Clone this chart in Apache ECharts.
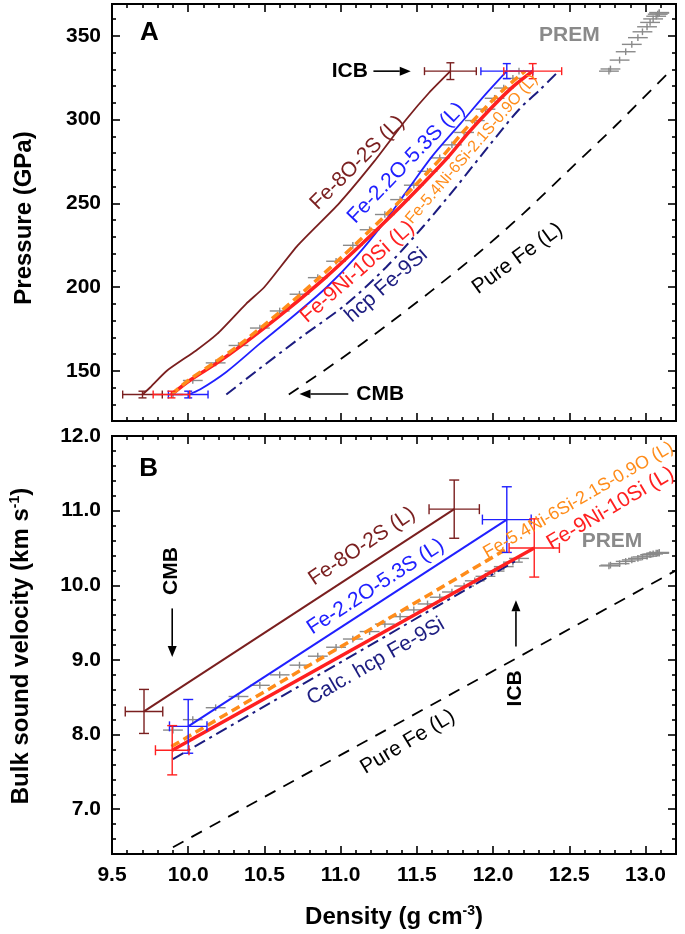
<!DOCTYPE html>
<html><head><meta charset="utf-8">
<script src="https://cdn.jsdelivr.net/npm/echarts@6/dist/echarts.min.js"></script>
<style>html,body{margin:0;padding:0;background:#fff}#c{width:685px;height:934px}</style>
</head><body><div id="c"></div>
<script>
// ================= DATA =================
// tick labels
const rhoTicks = [9.5, 10.0, 10.5, 11.0, 11.5, 12.0, 12.5, 13.0];
const pTicks = [150, 200, 250, 300, 350];
const vTicks = [7.0, 8.0, 9.0, 10.0, 11.0, 12.0];

// ---- Panel A: pressure (GPa) vs density (g/cm3) ----
const aFe8O2S_rho = [9.70, 9.75, 9.86, 10.05, 10.19, 10.38, 10.50, 10.72, 10.99, 11.22, 11.43, 11.58, 11.72];
const aFe8O2S_P   = [135.8, 140, 150, 162, 172, 190, 200, 225, 250, 275, 300, 316, 328.9];
const aFe22O_rho  = [10.00, 10.08, 10.25, 10.47, 10.71, 10.91, 11.10, 11.28, 11.44, 11.60, 11.79, 11.94, 12.09];
const aFe22O_P    = [135.8, 139, 149.3, 166.2, 184.2, 200, 218, 238, 258, 278, 298, 314, 328.9];
const aFe9Ni_rho  = [9.89, 10.01, 10.19, 10.35, 10.64, 10.90, 11.13, 11.34, 11.53, 11.70, 11.84, 11.98, 12.12, 12.26];
const aFe9Ni_P    = [135.8, 144.2, 154.7, 165.1, 185.7, 205.6, 224.9, 243.3, 260.8, 277.1, 292.3, 306.2, 318.8, 328.9];
const aFe54Ni_rho = [9.89, 10.00, 10.17, 10.33, 10.61, 10.86, 11.09, 11.30, 11.49, 11.66, 11.80, 11.94, 12.08, 12.21];
const aFe54Ni_P   = [135.8, 144.2, 154.7, 165.1, 185.7, 205.6, 224.9, 243.3, 260.8, 277.1, 292.3, 306.2, 318.8, 328.9];
const aHcp_rho    = [10.25, 10.45, 10.74, 11.04, 11.30, 11.54, 11.76, 11.97, 12.17, 12.31, 12.43];
const aHcp_P      = [135.8, 150, 170, 190, 212, 236, 260, 284, 306, 318, 328.9];
const aPureFe_rho = [10.66, 11.00, 11.30, 11.60, 11.90, 12.20, 12.50, 12.80, 13.16];
const aPureFe_P   = [135.8, 157, 177, 198, 220, 244, 270, 296, 328.9];

// PREM outer core (density, pressure, bulk sound velocity)
const premOC_rho = [9.90, 10.03, 10.18, 10.33, 10.47, 10.60, 10.73, 10.85, 10.97, 11.08, 11.19, 11.29, 11.39, 11.48, 11.57, 11.65, 11.73, 11.81, 11.88, 11.95, 12.01, 12.07, 12.13, 12.17];
const premOC_P   = [135.8, 144.2, 154.7, 165.1, 175.5, 185.7, 195.7, 205.6, 215.4, 224.9, 234.2, 243.3, 252.2, 260.8, 269.1, 277.1, 284.9, 292.3, 299.4, 306.2, 312.7, 318.8, 324.6, 328.9];
const premOC_V   = [8.06, 8.20, 8.36, 8.51, 8.66, 8.80, 8.93, 9.05, 9.17, 9.28, 9.38, 9.48, 9.58, 9.67, 9.75, 9.84, 9.91, 9.99, 10.06, 10.12, 10.19, 10.25, 10.31, 10.36];
// PREM inner core
const premIC_rho = [12.76, 12.77, 12.83, 12.87, 12.91, 12.95, 12.98, 13.01, 13.03, 13.05, 13.07, 13.08, 13.09, 13.09];
const premIC_P   = [328.9, 330.2, 335.5, 340.5, 344.9, 348.9, 352.4, 355.4, 358.0, 360.1, 361.7, 362.9, 363.6, 363.9];
const premIC_V   = [10.26, 10.27, 10.29, 10.32, 10.34, 10.36, 10.38, 10.39, 10.41, 10.42, 10.43, 10.43, 10.43, 10.44];
const premErrRho = 0.065, premErrP = 2.0, premErrV = 0.045;

// error-bar points panel A: [rho, P, rhoErr, PErr]
const aErrFe8O2S = [[9.70, 135.8, 0.13, 2.0], [11.72, 328.9, 0.17, 5.0]];
const aErrFe22O  = [[10.00, 135.8, 0.13, 2.0], [12.09, 328.9, 0.17, 4.5]];
const aErrFe9Ni  = [[9.89, 135.8, 0.12, 2.0], [12.26, 328.9, 0.19, 4.5]];

// ---- Panel B: bulk sound velocity (km/s) vs density ----
const bFe8O2S_rho = [9.71, 11.745];   const bFe8O2S_V = [8.31, 11.02];
const bFe22O_rho  = [10.00, 12.09];   const bFe22O_V  = [8.11, 10.88];
const bFe9Ni_rho  = [9.895, 12.27];   const bFe9Ni_V  = [7.79, 10.50];
const bFe54Ni_rho = [9.89, 12.10];    const bFe54Ni_V = [7.84, 10.50];
const bHcp_rho    = [9.90, 12.16];    const bHcp_V    = [7.67, 10.34];
const bPureFe_rho = [9.90, 13.20];    const bPureFe_V = [6.49, 10.20];
// error bars panel B: [rho, V, rhoErr, VErr]
const bErrFe8O2S = [[9.71, 8.31, 0.123, 0.295], [11.745, 11.02, 0.165, 0.39]];
const bErrFe22O  = [[10.00, 8.11, 0.123, 0.36], [12.09, 10.88, 0.16, 0.44]];
const bErrFe9Ni  = [[9.895, 7.79, 0.11, 0.33], [12.27, 10.50, 0.165, 0.39]];

// ================= STYLE / LAYOUT =================
const C = {maroon:'#7a1f1f', blue:'#2020ff', red:'#ff2020', orange:'#ff8c1a', navy:'#1c1c80', black:'#000', gray:'#8a8a8a'};
const FF = '"Liberation Sans", Arial, sans-serif';

const annA = [
  {t:'A', x:9.745, y:351.5, a:0, c:C.black, f:'bold 26px '+FF},
  {t:'PREM', x:12.50, y:350.5, a:0, c:C.gray, f:'bold 21px '+FF},
  {t:'ICB', x:11.06, y:328.6, a:0, c:C.black, f:'bold 21px '+FF},
  {t:'CMB', x:11.26, y:136.1, a:0, c:C.black, f:'bold 21px '+FF},
  {t:'Fe-8O-2S (L)', x:11.11, y:274.2, a:45, c:C.maroon, f:'21px '+FF},
  {t:'Fe-2.2O-5.3S (L)', x:11.43, y:274, a:46, c:C.blue, f:'21px '+FF},
  {t:'Fe-9Ni-10Si (L)', x:11.11, y:209, a:41, c:C.red, f:'21px '+FF},
  {t:'Fe-5.4Ni-6Si-2.1S-0.9O (L)', x:11.86, y:282.3, a:49, c:C.orange, f:'16px '+FF},
  {t:'hcp Fe-9Si', x:11.30, y:201, a:41, c:C.navy, f:'21px '+FF},
  {t:'Pure Fe (L)', x:12.16, y:217, a:36, c:C.black, f:'21px '+FF}
];
const annB = [
  {t:'B', x:9.74, y:11.56, a:0, c:C.black, f:'bold 26px '+FF},
  {t:'PREM', x:12.78, y:10.585, a:0, c:C.gray, f:'bold 21px '+FF},
  {t:'CMB', x:9.89, y:10.19, a:90, c:C.black, f:'bold 21px '+FF},
  {t:'ICB', x:12.145, y:8.62, a:90, c:C.black, f:'bold 21px '+FF},
  {t:'Fe-8O-2S (L)', x:11.14, y:10.52, a:34, c:C.maroon, f:'21px '+FF},
  {t:'Fe-2.2O-5.3S (L)', x:11.23, y:9.98, a:33, c:C.blue, f:'21px '+FF},
  {t:'Fe-5.4Ni-6Si-2.1S-0.9O (L)', x:12.56, y:11.14, a:30, c:C.orange, f:'18px '+FF},
  {t:'Fe-9Ni-10Si (L)', x:12.77, y:11.03, a:30.5, c:C.red, f:'21px '+FF},
  {t:'Calc. hcp Fe-9Si', x:11.23, y:8.98, a:30, c:C.navy, f:'21px '+FF},
  {t:'Pure Fe (L)', x:11.44, y:7.90, a:31, c:C.black, f:'21px '+FF}
];
const arrowsA = [[11.215, 328.9, 11.46, 328.9], [11.05, 136.1, 10.73, 136.1]];
const arrowsB = [[9.895, 9.69, 9.895, 9.04], [12.15, 9.18, 12.15, 9.80]];

// ================= BUILD =================
function zip(a, b) { return a.map((v, i) => [v, b[i]]); }
function zip3(a, b, ex, ey) { return a.map((v, i) => [v, b[i], ex, ey]); }
function minors(lo, hi, step, major) {
  const out = []; const n = Math.round((hi - lo) / step);
  for (let i = 0; i <= n; i++) { const v = +(lo + i * step).toFixed(4); const r = v / major; if (Math.abs(r - Math.round(r)) > 1e-6) out.push(v); }
  return out;
}
const rhoMinor = minors(9.6, 13.1, 0.1, 0.5);
const pMinor = minors(130, 360, 10, 50);
const vMinor = minors(6.6, 11.8, 0.2, 1);

const tickLS = {color:'#000', width:1.6};
const labelFont = {color:'#000', fontFamily:FF, fontWeight:'bold', fontSize:21};
function axis(grid, pos, min, max, ticks, len, labelFmt) {
  return {gridIndex:grid, type:'value', min:min, max:max, position:pos,
    axisLine:{show:false, onZero:false}, splitLine:{show:false}, minorTick:{show:false},
    axisTick:{show:true, inside:true, length:len, customValues:ticks, lineStyle:tickLS},
    axisLabel: labelFmt ? Object.assign({show:true, customValues:ticks, formatter:labelFmt, margin:11}, labelFont) : {show:false}};
}
const f1 = v => v.toFixed(1), f0 = v => String(Math.round(v));
const xAxes = [], yAxes = [];
[[0, false], [1, true]].forEach(([g, lab]) => {
  xAxes.push(axis(g, 'bottom', 9.5, 13.2, rhoTicks, 8, lab ? f1 : null));
  xAxes.push(axis(g, 'bottom', 9.5, 13.2, rhoMinor, 4, null));
  xAxes.push(axis(g, 'top', 9.5, 13.2, rhoTicks, 8, null));
  xAxes.push(axis(g, 'top', 9.5, 13.2, rhoMinor, 4, null));
});
yAxes.push(axis(0, 'left', 120, 369, pTicks, 8, f0));
yAxes.push(axis(0, 'left', 120, 369, pMinor, 4, null));
yAxes.push(axis(0, 'right', 120, 369, pTicks, 8, null));
yAxes.push(axis(0, 'right', 120, 369, pMinor, 4, null));
yAxes.push(axis(1, 'left', 6.4, 12.0, vTicks, 8, f1));
yAxes.push(axis(1, 'left', 6.4, 12.0, vMinor, 4, null));
yAxes.push(axis(1, 'right', 6.4, 12.0, vTicks, 8, null));
yAxes.push(axis(1, 'right', 6.4, 12.0, vMinor, 4, null));

function ln(p, q, st) { return {type:'line', shape:{x1:p[0], y1:p[1], x2:q[0], y2:q[1]}, style:st}; }
function barsRender(color, lw, cap) {
  return function (params, api) {
    const x = api.value(0), y = api.value(1), ex = api.value(2), ey = api.value(3);
    const l = api.coord([x - ex, y]), r = api.coord([x + ex, y]), t = api.coord([x, y + ey]), b = api.coord([x, y - ey]);
    const st = {stroke:color, lineWidth:lw, fill:null};
    const ch = [ln(l, r, st), ln(t, b, st)];
    if (cap) {
      ch.push(ln([l[0], l[1] - cap], [l[0], l[1] + cap], st));
      ch.push(ln([r[0], r[1] - cap], [r[0], r[1] + cap], st));
      ch.push(ln([t[0] - cap, t[1]], [t[0] + cap, t[1]], st));
      ch.push(ln([b[0] - cap, b[1]], [b[0] + cap, b[1]], st));
    }
    return {type:'group', children:ch};
  };
}
function bars(data, color, lw, cap, xi, z) {
  return {type:'custom', coordinateSystem:'cartesian2d', xAxisIndex:xi, yAxisIndex:xi, data:data,
    renderItem:barsRender(color, lw, cap), z:z, silent:true, clip:false};
}
function line(x, y, color, w, type, xi, z, smooth) {
  return {type:'line', xAxisIndex:xi, yAxisIndex:xi, data:zip(x, y), showSymbol:false, symbol:'none',
    smooth:smooth || false, lineStyle:{color:color, width:w, type:type}, z:z, silent:true, clip:true};
}
function texts(ann, xi) {
  return {type:'custom', coordinateSystem:'cartesian2d', xAxisIndex:xi, yAxisIndex:xi, data:ann.map(a => [a.x, a.y]),
    z:10, silent:true, clip:false,
    renderItem: function (params, api) {
      const a = ann[params.dataIndex];
      const c = api.coord([api.value(0), api.value(1)]);
      return {type:'text', x:c[0], y:c[1], rotation:a.a * Math.PI / 180,
        style:{text:a.t, font:a.f, fill:a.c, align:'center', verticalAlign:'middle'}};
    }};
}
function arrows(data, xi) {
  return {type:'custom', coordinateSystem:'cartesian2d', xAxisIndex:xi, yAxisIndex:xi, data:data, z:10, silent:true, clip:false,
    renderItem: function (params, api) {
      const p = api.coord([api.value(0), api.value(1)]), q = api.coord([api.value(2), api.value(3)]);
      const ang = Math.atan2(q[1] - p[1], q[0] - p[0]), L = 11, W = 4.5;
      const cx = Math.cos(ang), sy = Math.sin(ang);
      const bx = q[0] - L * cx, by = q[1] - L * sy;
      return {type:'group', children:[
        {type:'line', shape:{x1:p[0], y1:p[1], x2:bx, y2:by}, style:{stroke:'#000', lineWidth:1.6}},
        {type:'polygon', shape:{points:[[q[0], q[1]], [bx - W * sy, by + W * cx], [bx + W * sy, by - W * cx]]}, style:{fill:'#000'}}
      ]};
    }};
}

const series = [
  // Panel A
  bars(zip3(premOC_rho, premOC_P, premErrRho, premErrP), C.gray, 1.4, 0, 0, 1),
  bars(zip3(premIC_rho, premIC_P, premErrRho, premErrP), C.gray, 1.4, 0, 0, 1),
  line(aPureFe_rho, aPureFe_P, C.black, 1.8, [12, 9], 0, 2, 0.3),
  line(aFe8O2S_rho, aFe8O2S_P, C.maroon, 1.8, 'solid', 0, 3, 0.2),
  line(aHcp_rho, aHcp_P, C.navy, 2, [12, 5, 3, 5], 0, 3, 0.3),
  line(aFe22O_rho, aFe22O_P, C.blue, 1.8, 'solid', 0, 3, 0.3),
  line(aFe9Ni_rho, aFe9Ni_P, C.red, 3.5, 'solid', 0, 4, 0.3),
  line(aFe54Ni_rho, aFe54Ni_P, C.orange, 3.5, [9, 5], 0, 5, 0.3),
  bars(aErrFe8O2S, C.maroon, 1.4, 4, 0, 6),
  bars(aErrFe22O, C.blue, 1.4, 4, 0, 6),
  bars(aErrFe9Ni, C.red, 1.4, 4, 0, 6),
  texts(annA, 0),
  arrows(arrowsA, 0),
  // Panel B
  bars(zip3(premOC_rho, premOC_V, premErrRho, premErrV), C.gray, 1.4, 0, 4, 1),
  bars(zip3(premIC_rho, premIC_V, premErrRho, premErrV), C.gray, 1.4, 0, 4, 1),
  line(bPureFe_rho, bPureFe_V, C.black, 1.8, [12, 9], 4, 2),
  line(bFe8O2S_rho, bFe8O2S_V, C.maroon, 2, 'solid', 4, 3),
  line(bHcp_rho, bHcp_V, C.navy, 2, [12, 5, 3, 5], 4, 3),
  line(bFe22O_rho, bFe22O_V, C.blue, 2, 'solid', 4, 3),
  line(bFe9Ni_rho, bFe9Ni_V, C.red, 3.5, 'solid', 4, 4),
  line(bFe54Ni_rho, bFe54Ni_V, C.orange, 3.5, [9, 5], 4, 5),
  bars(bErrFe8O2S, C.maroon, 1.4, 5, 4, 6),
  bars(bErrFe22O, C.blue, 1.4, 5, 4, 6),
  bars(bErrFe9Ni, C.red, 1.4, 5, 4, 6),
  texts(annB, 4),
  arrows(arrowsB, 4)
];

const titleFont = 'bold 24px ' + FF;
const option = {
  animation:false,
  backgroundColor:'#fff',
  grid:[
    {left:112, top:4, width:564, height:417, show:true, borderColor:'#000', borderWidth:2, backgroundColor:'transparent', containLabel:false},
    {left:112, top:436, width:564, height:418, show:true, borderColor:'#000', borderWidth:2, backgroundColor:'transparent', containLabel:false}
  ],
  xAxis:xAxes,
  yAxis:yAxes,
  graphic:[
    {type:'text', x:24, y:218, rotation:Math.PI / 2, style:{text:'Pressure (GPa)', font:titleFont, fill:'#000', align:'center', verticalAlign:'middle'}},
    {type:'text', x:21, y:646, rotation:Math.PI / 2, style:{text:'{a|Bulk sound velocity (km s}{s|-1}{a|)}', align:'center', verticalAlign:'middle',
      rich:{a:{font:titleFont, fill:'#000', lineHeight:26}, s:{font:'bold 14px ' + FF, fill:'#000', lineHeight:14, verticalAlign:'top'}}}},
    {type:'text', x:394, y:917, style:{text:'{a|Density (g cm}{s|-3}{a|)}', align:'center', verticalAlign:'middle',
      rich:{a:{font:titleFont, fill:'#000', lineHeight:26}, s:{font:'bold 14px ' + FF, fill:'#000', lineHeight:14, verticalAlign:'top'}}}}
  ],
  series:series
};
const chart = echarts.init(document.getElementById('c'), null, {renderer:'canvas', width:685, height:934});
chart.setOption(option);
</script>
</body></html>
